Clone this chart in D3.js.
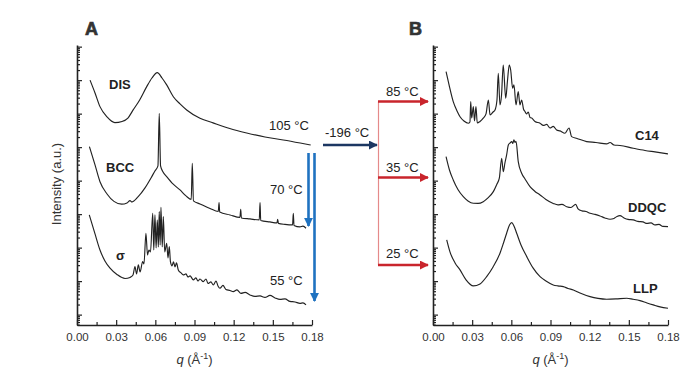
<!DOCTYPE html>
<html>
<head>
<meta charset="utf-8">
<script src="https://cdn.jsdelivr.net/npm/d3@7"></script>
<style>
  body { margin: 0; background: #fff; }
  svg { display: block; font-family: "Liberation Sans", Arial, sans-serif; }
</style>
</head>
<body>
<svg width="700" height="377"></svg>
<script>
// q tick labels (Å^-1) and minor tick spacing
const qTicks = [0, 0.03, 0.06, 0.09, 0.12, 0.15, 0.18];
const qMinor = [0.015, 0.045, 0.075, 0.105, 0.135, 0.165];

// panel A, intensity (a.u.) vs q
const disData = [[0.010,1.0e7],[0.0138,4.15e6],[0.0176,1.62e6],[0.023,7.96e5],[0.029,5.4e5],[0.0345,5.85e5],
  [0.039,7.4e5],[0.043,1.29e6],[0.048,2.56e6],[0.0534,6.4e6],[0.0574,1.16e7],[0.0615,1.67e7],[0.0651,1.16e7],
  [0.0687,7.2e6],[0.0738,3.2e6],[0.0789,1.95e6],[0.084,1.29e6],[0.0942,7.3e5],[0.1042,5.3e5],[0.117,3.6e5],
  [0.130,2.65e5],[0.144,2.0e5],[0.158,1.64e5],[0.171,1.33e5],[0.179,1.16e5]];

const bccData = [[0.0095,1.03e5],[0.0138,2.94e4],[0.0176,9.3e3],[0.023,4.0e3],[0.0283,2.4e3],[0.0342,1.98e3],
  [0.0383,2.16e3],[0.0406,2.53e3],[0.0421,2.31e3],[0.0467,3.26e3],[0.0521,6.05e3],[0.0567,1.2e4],[0.0597,1.95e4],
  [0.062,2.75e4],[0.063,1.03e6],[0.064,2.75e4],[0.0659,1.82e4],[0.0687,1.32e4],[0.0735,7.97e3],[0.0789,5.28e3],
  [0.0835,3.5e3],[0.0875,2.75e3],[0.0883,3.3e4],[0.0892,2.48e3],[0.0942,2.02e3],[0.1019,1.48e3],[0.1082,1.2e3],
  [0.1088,2.2e3],[0.1093,1.16e3],[0.1172,946],[0.1248,797],[0.1254,1.4e3],[0.1259,770],[0.1325,719],[0.1396,671],
  [0.1402,2.2e3],[0.1407,649],[0.1478,585],[0.1532,546],[0.1537,705],[0.1543,528],[0.1593,493],[0.1651,476],
  [0.1657,1.06e3],[0.1662,460],[0.1708,415],[0.1731,440],[0.1754,379]];

const sigmaData = [[0.0094,946],[0.0138,256],[0.0176,85],[0.0214,40],[0.0253,24.3],[0.0306,15.8],[0.0368,12],
  [0.0406,12.9],[0.0429,15.3],[0.0444,27.1],[0.0456,16.4],[0.047,30.5],[0.0483,18.8],[0.0503,38.2],[0.0513,32.6],
  [0.0528,269],[0.054,60.5],[0.0551,85],[0.0563,74.5],[0.058,1064],[0.0588,85],[0.0597,946],[0.0606,98],
  [0.0615,671],[0.0623,105],[0.063,1188],[0.0637,120],[0.0643,1607],[0.0653,105],[0.0661,842],[0.0672,74.5],
  [0.0687,135],[0.0697,49.3],[0.0707,107],[0.0716,37.4],[0.0728,28.4],[0.0739,37.4],[0.0751,26.5],[0.0762,34.9],
  [0.0776,21.6],[0.0797,17.6],[0.0814,15.3],[0.0835,16.4],[0.085,13.3],[0.0866,14.3],[0.0891,10.9],[0.0911,12.5],
  [0.0927,10.1],[0.0942,11.6],[0.0967,9.66],[0.0988,11.6],[0.1003,8.53],[0.1026,9.46],[0.1044,7.7],[0.1065,10.1],
  [0.108,7.19],[0.1095,6.14],[0.1118,7.44],[0.1141,5.65],[0.1172,5.27],[0.1197,4.86],[0.1225,5.46],[0.1256,4.3],
  [0.1287,4.6],[0.1325,3.87],[0.1363,3.49],[0.1402,3.61],[0.144,3.26],[0.1478,3.74],[0.1517,3.15],[0.1555,2.84],
  [0.1593,2.94],[0.1631,2.48],[0.167,2.39],[0.1708,2.16],[0.1731,2.24],[0.1754,1.95]];

// panel B
const c14Data = [[0.010,1.79e7],[0.0123,7.2e6],[0.0155,2.28e6],[0.0184,1.2e6],[0.0207,8.1e5],[0.0237,6.05e5],
  [0.027,5.17e5],[0.0283,5.65e5],[0.0289,2.28e6],[0.0296,7.4e5],[0.0309,1.62e6],[0.0318,6.05e5],[0.0329,1.62e6],
  [0.0339,5.27e5],[0.036,5.85e5],[0.0385,7.3e5],[0.0406,9.8e5],[0.0424,2.56e6],[0.0437,9.1e5],[0.046,1.12e6],
  [0.0475,1.29e6],[0.049,2.56e6],[0.050,1.61e7],[0.0513,1.82e6],[0.0525,3.6e6],[0.0538,2.84e7],[0.0557,2.88e6],
  [0.0571,1.01e7],[0.0584,2.84e7],[0.0595,2.01e7],[0.061,5.73e6],[0.062,7.2e6],[0.0636,1.82e6],[0.0653,4.54e6],
  [0.0666,1.82e6],[0.0679,2.56e6],[0.0693,1.38e6],[0.0705,1.15e6],[0.0716,9.8e5],[0.073,1.12e6],[0.0743,7.7e5],
  [0.0756,7.4e5],[0.0781,5.85e5],[0.082,5.17e5],[0.0845,4.45e5],[0.0871,4.76e5],[0.0896,3.74e5],[0.0921,4.15e5],
  [0.0947,3.26e5],[0.0973,3.05e5],[0.1011,2.6e5],[0.1042,3.74e5],[0.1062,2.06e5],[0.1103,1.82e5],[0.1177,1.46e5],
  [0.1248,1.38e5],[0.133,1.25e5],[0.1356,1.38e5],[0.1386,1.16e5],[0.1432,1.12e5],[0.1534,9.27e4],[0.1624,7.96e4],
  [0.170,7.19e4],[0.180,6.27e4]];

const ddqcData = [[0.010,5.2e4],[0.0126,2.08e4],[0.0155,1.05e4],[0.0191,5.46e3],[0.0232,3.33e3],[0.0268,2.48e3],
  [0.0309,2.11e3],[0.0345,2.09e3],[0.0385,2.36e3],[0.0421,3.05e3],[0.0462,4.7e3],[0.049,7.97e3],[0.0508,1.18e4],
  [0.0526,4.67e4],[0.0538,1.86e4],[0.0551,3.37e4],[0.0564,5.85e4],[0.0577,1.16e5],[0.059,1.33e5],[0.0603,1.46e5],
  [0.0611,1.29e5],[0.062,1.64e5],[0.0628,1.38e5],[0.0636,1.48e5],[0.0653,3.69e4],[0.0679,1.66e4],[0.0705,1.12e4],
  [0.0743,6.62e3],[0.0781,4.76e3],[0.082,3.74e3],[0.0865,2.75e3],[0.0921,2.09e3],[0.0957,1.88e3],[0.0988,1.95e3],
  [0.1024,1.67e3],[0.1057,1.58e3],[0.1093,1.95e3],[0.1111,1.43e3],[0.1141,1.25e3],[0.1172,1.2e3],[0.1203,1.06e3],
  [0.1241,980],[0.1279,883],[0.1317,770],[0.1356,705],[0.1386,744],[0.1409,853],[0.1432,902],[0.1463,770],
  [0.1494,695],[0.1534,671],[0.157,606],[0.1608,585],[0.1639,528],[0.167,546],[0.170,476],[0.1731,493],
  [0.1761,430],[0.180,424]];

const llpData = [[0.0105,170],[0.013,74.5],[0.0169,34.9],[0.0207,21.6],[0.0253,10.9],[0.0309,7.19],[0.036,8.25],
  [0.0411,13.6],[0.046,26.5],[0.0513,68.1],[0.054,138],[0.0564,269],[0.0586,476],[0.0603,557],[0.062,444],
  [0.0641,269],[0.0674,120],[0.0718,53.9],[0.0766,24.8],[0.082,13.6],[0.0865,10.1],[0.0921,7.7],[0.0957,7.19],
  [0.0998,6.85],[0.1034,6.05],[0.1075,5.46],[0.1126,4.44],[0.1203,3.44],[0.1264,3.05],[0.133,2.88],[0.1401,2.94],
  [0.1484,3.09],[0.1532,2.88],[0.1585,2.62],[0.1639,2.23],[0.1687,1.95],[0.1739,1.70],[0.180,1.55]];

const svg = d3.select('svg');
const ink = '#222';

const xA = d3.scaleLinear().domain([0, 0.18]).range([77, 312]);
const xB = d3.scaleLinear().domain([0, 0.18]).range([433, 668]);
const y = d3.scaleLog().domain([0.49, 1.12e8]).range([325, 45]);

// log ticks: decades are major, 2..9 are minor
const logTicks = d3.range(-1, 9).flatMap(e => d3.range(1, 10).map(m => m * Math.pow(10, e)))
  .filter(v => v >= y.domain()[0] && v <= y.domain()[1]);
const isMajor = v => Math.abs(Math.log10(v) - Math.round(Math.log10(v))) < 1e-9;

function drawPanel(x, curves) {
  const g = svg.append('g');

  // x axis
  const xAxis = g.append('g').attr('transform', 'translate(0,325)')
    .call(d3.axisBottom(x).tickValues(qTicks).tickSizeInner(-5).tickSizeOuter(0).tickPadding(8)
      .tickFormat(d3.format('.2f')));
  g.append('g').attr('transform', 'translate(0,325)')
    .call(d3.axisBottom(x).tickValues(qMinor).tickSizeInner(-3).tickSizeOuter(0).tickFormat(''))
    .select('.domain').remove();
  xAxis.selectAll('text').attr('font-size', 11.5).attr('fill', '#333')
    .attr('font-family', '"Liberation Sans", Arial, sans-serif');

  // y axis, no labels
  const x0 = x.range()[0];
  g.append('g').attr('transform', `translate(${x0},0)`)
    .call(d3.axisLeft(y).tickValues(logTicks).tickSizeOuter(0).tickFormat(''))
    .call(a => a.selectAll('.tick line').attr('x2', d => isMajor(d) ? 5 : 3));

  g.selectAll('.domain').attr('stroke', ink).attr('stroke-width', 1.6);
  g.selectAll('.tick line').attr('stroke', ink).attr('stroke-width', 1.2);

  const line = d3.line().x(d => x(d[0])).y(d => y(d[1])).curve(d3.curveMonotoneX);
  g.selectAll('path.curve').data(curves).enter().append('path')
    .attr('class', 'curve')
    .attr('d', d => line(d))
    .attr('fill', 'none')
    .attr('stroke', ink)
    .attr('stroke-width', 1.15)
    .attr('stroke-linejoin', 'round');

  // x title: q (Å-1)
  const t = g.append('text')
    .attr('x', (x.range()[0] + x.range()[1]) / 2).attr('y', 364)
    .attr('text-anchor', 'middle').attr('font-size', 13).attr('fill', '#333');
  t.append('tspan').attr('font-style', 'italic').text('q');
  t.append('tspan').text(' (Å');
  t.append('tspan').attr('font-size', 9).attr('dy', -5).text('-1');
  t.append('tspan').attr('dy', 5).text(')');
}

drawPanel(xA, [disData, bccData, sigmaData]);
drawPanel(xB, [c14Data, ddqcData, llpData]);

// y axis title
svg.append('text')
  .attr('transform', 'translate(61,184) rotate(-90)')
  .attr('text-anchor', 'middle').attr('font-size', 13).attr('fill', '#333')
  .text('Intensity (a.u.)');

// panel letters
svg.append('text').attr('x', 85).attr('y', 35).attr('font-size', 18).attr('font-weight', 'bold')
  .attr('fill', '#333').attr('stroke', '#333').attr('stroke-width', 0.7).text('A');
svg.append('text').attr('x', 409).attr('y', 35).attr('font-size', 18).attr('font-weight', 'bold')
  .attr('fill', '#333').attr('stroke', '#333').attr('stroke-width', 0.7).text('B');

// curve names
const names = [
  { t: 'DIS', x: 109, y: 89 }, { t: 'BCC', x: 106, y: 172 }, { t: 'σ', x: 116, y: 260 },
  { t: 'C14', x: 635, y: 140 }, { t: 'DDQC', x: 628, y: 212 }, { t: 'LLP', x: 633, y: 293 }
];
svg.selectAll('text.name').data(names).enter().append('text')
  .attr('class', 'name').attr('x', d => d.x).attr('y', d => d.y)
  .attr('font-size', 13).attr('font-weight', 'bold').attr('fill', '#222').text(d => d.t);

// temperatures
const temps = [
  { t: '105 °C', x: 269, y: 130 }, { t: '70 °C', x: 270, y: 194 }, { t: '55 °C', x: 270, y: 285 },
  { t: '-196 °C', x: 325, y: 137 }, { t: '85 °C', x: 386, y: 96 }, { t: '35 °C', x: 386, y: 172 },
  { t: '25 °C', x: 386, y: 258 }
];
svg.selectAll('text.temp').data(temps).enter().append('text')
  .attr('class', 'temp').attr('x', d => d.x).attr('y', d => d.y)
  .attr('font-size', 13).attr('fill', '#222').text(d => d.t);

// arrows
const defs = svg.append('defs');
function marker(id, color) {
  defs.append('marker').attr('id', id).attr('markerUnits', 'userSpaceOnUse')
    .attr('viewBox', '0 0 10 10').attr('refX', 9).attr('refY', 5)
    .attr('markerWidth', 9).attr('markerHeight', 9).attr('orient', 'auto')
    .append('path').attr('d', 'M0,0L10,5L0,10Z').attr('fill', color);
}
const blue = '#1f72c0', navy = '#1c3762', red = '#c9252c';
marker('mBlue', blue); marker('mNavy', navy); marker('mRed', red);

function arrow(x1, y1, x2, y2, color, id, w) {
  svg.append('line').attr('x1', x1).attr('y1', y1).attr('x2', x2).attr('y2', y2)
    .attr('stroke', color).attr('stroke-width', w).attr('marker-end', `url(#${id})`);
}
arrow(308.5, 153, 308.5, 226, blue, 'mBlue', 2.6);
arrow(314.5, 153, 314.5, 301, blue, 'mBlue', 2.6);
arrow(323, 145, 377, 145, navy, 'mNavy', 2.6);

svg.append('line').attr('x1', 378.5).attr('y1', 101.5).attr('x2', 378.5).attr('y2', 265)
  .attr('stroke', '#e58a8a').attr('stroke-width', 1.2);
[101.5, 177.5, 265].forEach(yy => arrow(378, yy, 428, yy, red, 'mRed', 2.6));
</script>
</body>
</html>
